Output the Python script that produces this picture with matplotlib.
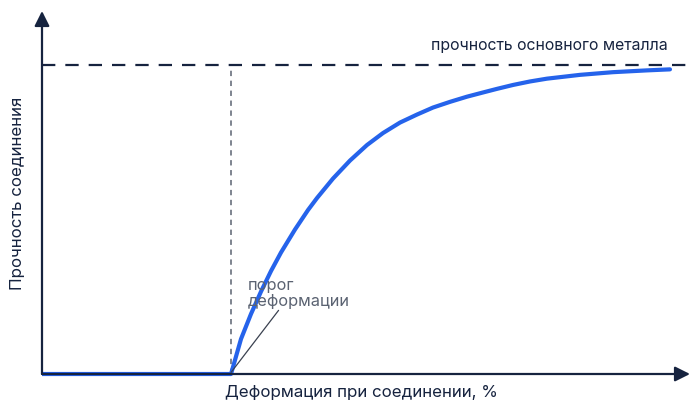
# strength_vs_strain.py — joint strength vs. deformation, schematic curve

import matplotlib
matplotlib.use("Agg")
import matplotlib.pyplot as plt

# ── data (x: deformation, % of axis; y: strength, % of base metal) ──────────
strain = [29.17, 30.71, 32.25, 33.80, 35.34, 36.88, 39.04, 41.05, 42.44,
          44.91, 47.53, 50.15, 52.62, 55.25, 57.87, 60.34, 62.96, 65.59,
          68.06, 70.22, 72.69, 75.31, 77.93, 83.02, 88.12, 93.36, 96.91]
strength = [0.0, 11.33, 19.42, 26.70, 33.33, 39.32, 46.76, 53.07, 56.96,
            63.27, 69.09, 74.11, 77.99, 81.39, 83.98, 86.25, 88.09, 89.77,
            91.13, 92.30, 93.56, 94.69, 95.60, 96.83, 97.70, 98.28, 98.61]
threshold = 29.17      # деформационный порог
base_metal = 100.0     # прочность основного металла

x_label = "Деформация при соединении, %"
y_label = "Прочность соединения"
base_label = "прочность основного металла"
threshold_label = "порог\nдеформации"

NAVY = "#16233f"
BLUE = "#2563eb"
GREY = "#5b6372"

plt.rcParams["font.family"] = ["Inter", "DejaVu Sans"]

W, H = 700, 414
fig = plt.figure(figsize=(W / 100, H / 100), dpi=100)
# axes box placed so the origin sits at (42, 375) px and arrows end at 690 / 12 px
ax = fig.add_axes([42 / W, (H - 375) / H, (690 - 42) / W, (375 - 12) / H])
ax.set_xlim(0, 100)
ax.set_ylim(0, 117.5)
ax.axis("off")

# axes with arrow heads
arrow = dict(arrowstyle="-|>,head_length=0.9,head_width=0.45", color=NAVY,
             lw=1.6, shrinkA=0, shrinkB=0)
ax.annotate("", xy=(1, 0), xytext=(0, 0), xycoords="axes fraction",
            arrowprops=arrow)
ax.annotate("", xy=(0, 1), xytext=(0, 0), xycoords="axes fraction",
            arrowprops=arrow)

# base-metal strength level and threshold marker
ax.plot([0, 100], [base_metal, base_metal], color=NAVY, lw=1.6,
        dashes=(6, 4.5), clip_on=False)
ax.plot([threshold, threshold], [0, base_metal - 0.8], color=GREY, lw=1.1,
        dashes=(3.5, 3), clip_on=False)

# strength curve: flat until the threshold, then rising toward the base metal
ax.plot([0, threshold], [0, 0], color=BLUE, lw=3, solid_capstyle="butt",
        clip_on=False)
ax.plot(strain, strength, color=BLUE, lw=3, solid_capstyle="round",
        solid_joinstyle="round", clip_on=False)

# labels
ax.text(96.5, 104.3, base_label, color=NAVY, fontsize=11.4, ha="right",
        va="bottom")
ax.annotate(threshold_label, xy=(threshold, 0.5), xytext=(31.8, 21.5),
            color=GREY, fontsize=11.8, ha="left", va="bottom",
            linespacing=1.05,
            arrowprops=dict(arrowstyle="-", color="#3a4150", lw=0.9,
                            shrinkA=0, shrinkB=0,
                            relpos=(0.32, 0)))

fig.text(361 / W, 1 - 393 / H, x_label, color=NAVY, fontsize=12.2,
         ha="center", va="center")
fig.text(18 / W, 1 - 193 / H, y_label, color=NAVY, fontsize=12.2,
         ha="center", va="center", rotation=90)

fig.savefig("out.png", dpi=100)
